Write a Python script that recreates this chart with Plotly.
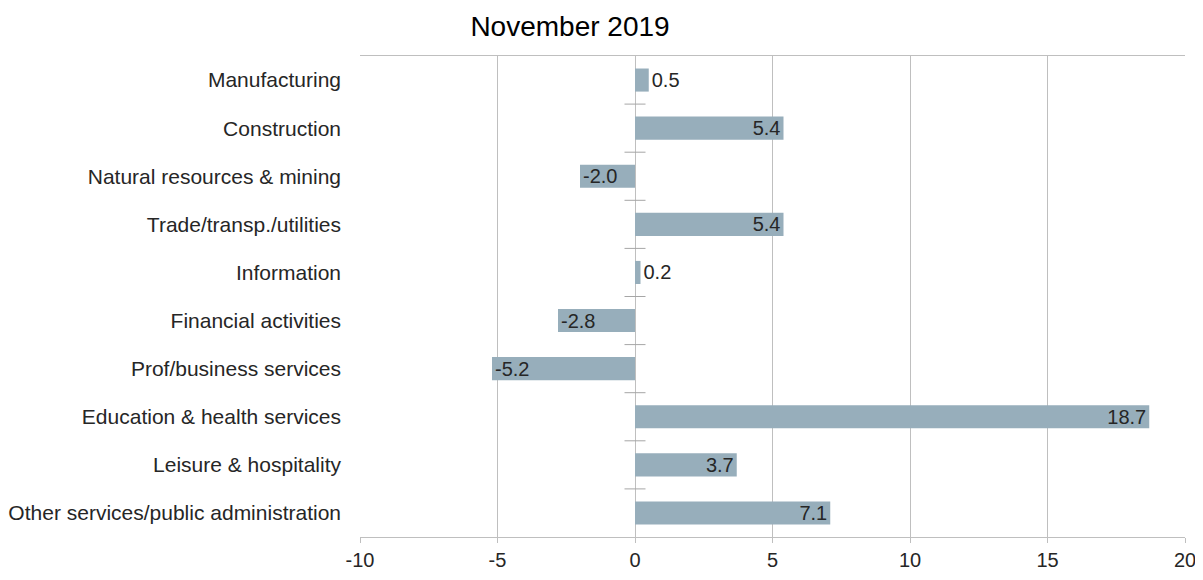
import plotly.graph_objects as go

categories = [
    "Manufacturing",
    "Construction",
    "Natural resources & mining",
    "Trade/transp./utilities",
    "Information",
    "Financial activities",
    "Prof/business services",
    "Education & health services",
    "Leisure & hospitality",
    "Other services/public administration",
]
values = [0.5, 5.4, -2.0, 5.4, 0.2, -2.8, -5.2, 18.7, 3.7, 7.1]
x_ticks = [-10, -5, 0, 5, 10, 15, 20]
title_text = "November 2019"

FONT = "Liberation Sans, Arial, sans-serif"
GRID = "#BFBFBF"
BAR = "#97AEBB"
TXT = "#262626"

W, H = 1195, 572

pos = list(range(len(categories)))
labels = [f"{v:.1f}" for v in values]
tpos = ["outside" if abs(v) < 1 else "inside" for v in values]

fig = go.Figure()
fig.add_trace(go.Bar(
    y=pos, x=values, orientation="h",
    marker=dict(color=BAR, line=dict(width=0)),
    width=0.48,
    text=labels, textposition=tpos, insidetextanchor="end",
    textfont=dict(family=FONT, size=20, color=TXT),
    insidetextfont=dict(family=FONT, size=20, color=TXT),
    outsidetextfont=dict(family=FONT, size=20, color=TXT),
    cliponaxis=False, textangle=0,
    hoverinfo="x+y",
))
# category boundary tick marks on the zero line
bounds = [i + 0.5 for i in range(len(categories) - 1)]
fig.add_trace(go.Scatter(
    x=[0] * len(bounds), y=bounds, mode="markers",
    marker=dict(symbol="line-ew", size=15, line=dict(width=1, color="#A6A6A6")),
    hoverinfo="skip", showlegend=False,
))

fig.update_layout(
    width=W, height=H,
    margin=dict(l=352, r=18, t=48, b=43),
    paper_bgcolor="white", plot_bgcolor="white",
    showlegend=False,
    uniformtext=dict(minsize=20, mode="show"),
    title=dict(text=title_text, x=562 / W, xref="container", xanchor="center",
               y=1 - 8 / H, yref="container", yanchor="top", pad=dict(t=0),
               font=dict(family=FONT, size=28, color="#000000")),
    font=dict(family=FONT, size=20, color=TXT),
)
fig.update_xaxes(
    range=[-10, 20], tickvals=x_ticks, ticktext=[str(t) for t in x_ticks],
    showgrid=True, gridcolor=GRID, gridwidth=1,
    zeroline=True, zerolinecolor=GRID, zerolinewidth=1,
    showline=True, linecolor=GRID, linewidth=1, mirror=True,
    ticks="outside", ticklen=5, tickcolor=GRID,
    tickfont=dict(family=FONT, size=20, color=TXT),
    fixedrange=True, automargin=False,
)
fig.update_yaxes(
    range=[len(categories) - 0.5, -0.5],
    tickvals=pos, ticktext=categories,
    showgrid=False, zeroline=False, showline=False,
    ticks="", ticklabelstandoff=18,
    tickfont=dict(family=FONT, size=21, color=TXT),
    fixedrange=True, automargin=False,
)

fig.write_html("out.html")
